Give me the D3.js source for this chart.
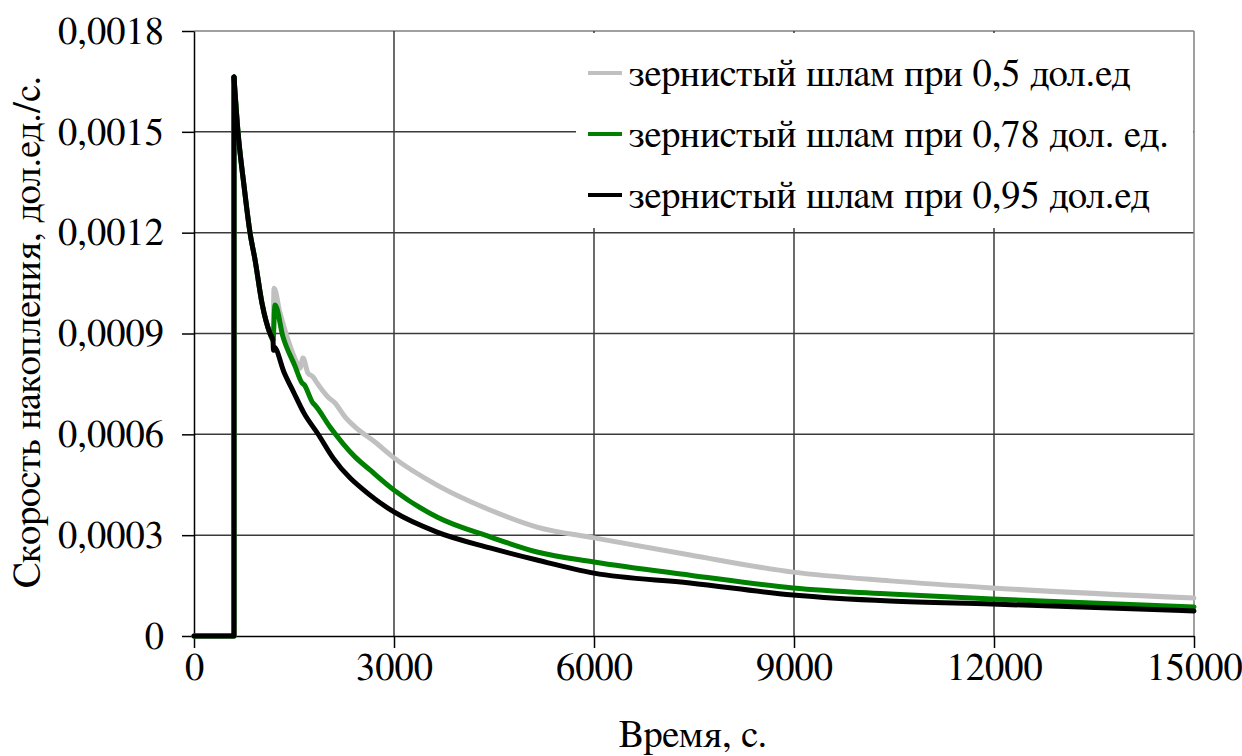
<!DOCTYPE html>
<html>
<head>
<meta charset="utf-8">
<script src="https://cdn.jsdelivr.net/npm/d3@7"></script>
</head>
<body style="margin:0;background:#fff">
<svg id="chart" width="1242" height="756" style="display:block"></svg>
<script>
// ---- data (time in s, rate in fractions/s) ----
const xTicks = [0, 3000, 6000, 9000, 12000, 15000];
const yTicks = [0, 0.0003, 0.0006, 0.0009, 0.0012, 0.0015, 0.0018];
const yTickLabels = ["0", "0,0003", "0,0006", "0,0009", "0,0012", "0,0015", "0,0018"];
const seriesNames = [
  "зернистый шлам при 0,5 дол.ед",
  "зернистый шлам при 0,78 дол. ед.",
  "зернистый шлам при 0,95 дол.ед"
];
const seriesColors = ["#c0c0c0", "#008000", "#000000"];

// common start (all three coincide): zero level, jump, then early decay
const stepT = [0, 600, 600];
const stepV = [0, 0, 0.001663];
const commonT = [600, 660, 750, 840, 915, 1020, 1140, 1185];
const commonV = [0.001663, 0.0015, 0.00134, 0.0012, 0.00112, 0.00099, 0.0009, 0.00088];

const grayT = [1200, 1290, 1410, 1545, 1590, 1635, 1710, 1785, 1845, 2010, 2115, 2265, 2415, 2715, 3000, 3645, 4440, 5145, 6000, 7440, 8985, 10440, 11970, 15000];
const grayV = [0.001035, 0.000961, 0.000881, 0.000812, 0.000797, 0.000827, 0.000782, 0.000771, 0.000753, 0.000711, 0.000693, 0.000652, 0.000622, 0.000577, 0.00053, 0.000449, 0.000375, 0.000324, 0.000292, 0.000241, 0.00019, 0.000164, 0.000143, 0.000113];

const greenT = [1215, 1335, 1515, 1620, 1650, 1785, 1810, 2040, 2415, 2640, 3000, 3645, 4440, 5145, 6000, 7440, 8985, 10440, 11970, 15000];
const greenV = [0.000985, 0.00089, 0.000803, 0.000753, 0.000748, 0.000693, 0.000688, 0.000622, 0.000533, 0.000494, 0.000434, 0.000354, 0.000295, 0.00025, 0.00022, 0.000181, 0.000143, 0.000125, 0.00011, 0.0000863];

const blackT = [1192, 1200, 1350, 1500, 1650, 1860, 2085, 2640, 3000, 3645, 4440, 5145, 6000, 7440, 8985, 10440, 11970, 15000];
const blackV = [0.00085, 0.00086, 0.000785, 0.000723, 0.000663, 0.000601, 0.000530, 0.000419, 0.000369, 0.000309, 0.000262, 0.000226, 0.000187, 0.000158, 0.000122, 0.000104, 0.0000952, 0.0000744];

// ---- layout ----
const FONT = "FreeSerif, 'Liberation Serif', serif";
const fs = 38.5;
const svg = d3.select("#chart").attr("font-family", FONT).attr("font-size", fs);
const L = 194, R = 1194, T = 31, B = 636;
const x = d3.scaleLinear().domain([0, 15000]).range([L, R]);
const y = d3.scaleLinear().domain([0, 0.0018]).range([B, T]);

const zip = (ts, vs) => ts.map((t, i) => [t, vs[i]]);
const step = zip(stepT, stepV);
const common = zip(commonT, commonV);
const series = [
  common.concat(zip(grayT, grayV)),
  common.concat(zip(greenT, greenV)),
  common.concat(zip(blackT, blackV))
];

// gridlines
const grid = svg.append("g");
grid.selectAll("line.h").data(yTicks.slice(1)).enter().append("line")
  .attr("x1", L).attr("x2", R)
  .attr("y1", d => y(d)).attr("y2", d => y(d))
  .attr("stroke", d => d === 0.0018 ? "#808080" : "#3a3a3a").attr("stroke-width", 1.5);
grid.selectAll("line.v").data(xTicks.slice(1)).enter().append("line")
  .attr("y1", T).attr("y2", B)
  .attr("x1", d => x(d)).attr("x2", d => x(d))
  .attr("stroke", d => d === 15000 ? "#808080" : "#3a3a3a").attr("stroke-width", 1.5);

// legend background (hides gridlines)
svg.append("rect").attr("x", 576).attr("y", T + 2).attr("width", R - 576 - 1).attr("height", 195)
  .attr("fill", "#fff");

// axes
const xAxis = svg.append("g").attr("transform", `translate(0,${B})`)
  .call(d3.axisBottom(x).tickValues(xTicks).tickSize(12).tickSizeOuter(0).tickFormat(d3.format("d")));
xAxis.attr("font-family", FONT).attr("font-size", fs);
xAxis.select(".domain").attr("stroke", "#000").attr("stroke-width", 1.5);
xAxis.selectAll(".tick line").attr("stroke", "#000").attr("stroke-width", 1.5);
xAxis.selectAll(".tick text").attr("font-family", FONT).attr("font-size", fs)
  .attr("fill", "#000").attr("dy", "0.71em").attr("y", 17);

const yAxis = svg.append("g").attr("transform", `translate(${L},0)`)
  .call(d3.axisLeft(y).tickValues(yTicks).tickSize(12).tickSizeOuter(0)
    .tickFormat((d, i) => yTickLabels[i]));
yAxis.attr("font-family", FONT).attr("font-size", fs);
yAxis.select(".domain").attr("stroke", "#000").attr("stroke-width", 1.5);
yAxis.selectAll(".tick line").attr("stroke", "#000").attr("stroke-width", 1.5);
yAxis.selectAll(".tick text").attr("font-family", FONT).attr("font-size", fs)
  .attr("fill", "#000").attr("x", -30);

// lines
const lineLin = d3.line().x(d => x(d[0])).y(d => y(d[1]));
const lineSm = d3.line().x(d => x(d[0])).y(d => y(d[1])).curve(d3.curveMonotoneX);
const lines = svg.append("g");
series.forEach((s, i) => {
  lines.append("path").attr("d", lineLin(step)).attr("fill", "none")
    .attr("stroke", seriesColors[i]).attr("stroke-width", 5)
    .attr("stroke-linejoin", "round").attr("stroke-linecap", "round");
  lines.append("path").attr("d", lineSm(s)).attr("fill", "none")
    .attr("stroke", seriesColors[i]).attr("stroke-width", 5)
    .attr("stroke-linejoin", "round").attr("stroke-linecap", "round");
});

// legend
const lg = svg.append("g");
const rowY = [73, 134, 195];
seriesNames.forEach((name, i) => {
  lg.append("line").attr("x1", 588).attr("x2", 622).attr("y1", rowY[i]).attr("y2", rowY[i])
    .attr("stroke", seriesColors[i]).attr("stroke-width", 4);
  lg.append("text").attr("x", 629).attr("y", rowY[i]).attr("dy", "0.33em")
    .attr("font-family", FONT).attr("font-size", fs).attr("fill", "#000").text(name);
});

// axis titles
svg.append("text").attr("x", 693).attr("y", 747).attr("text-anchor", "middle")
  .attr("font-family", FONT).attr("font-size", fs).attr("fill", "#000").text("Время, с.");
svg.append("text").attr("transform", `translate(40,332) rotate(-90)`)
  .attr("text-anchor", "middle").attr("font-family", FONT).attr("font-size", fs).attr("fill", "#000")
  .text("Скорость накопления, дол.ед./с.");
</script>
</body>
</html>
